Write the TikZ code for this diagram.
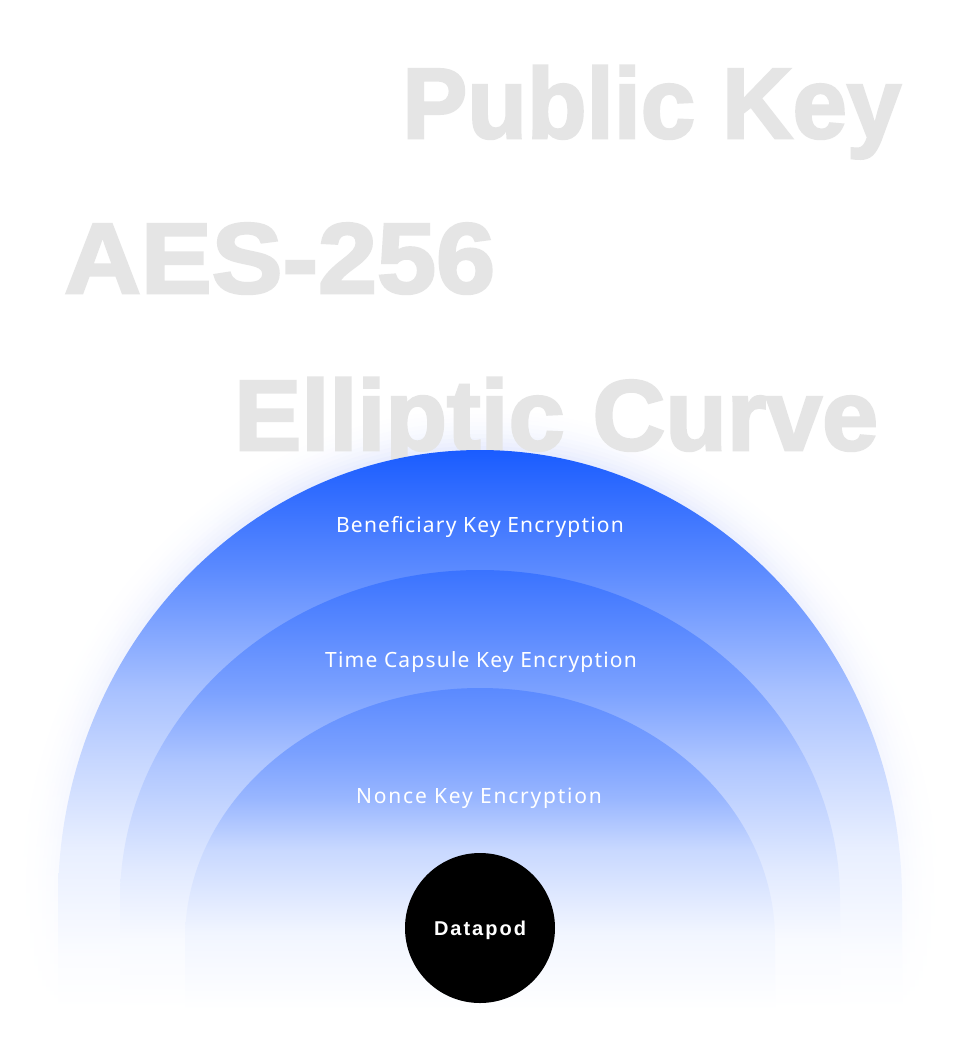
\documentclass[tikz,border=0pt]{standalone}
\usepackage{fontspec}
\setmainfont{Liberation Sans}
\newfontfamily\ghostfont[FakeBold=2.5]{Liberation Sans Bold}
\newfontfamily\labelfont[LetterSpace=5.7]{Noto Sans}
\newfontfamily\podfont[LetterSpace=10]{Liberation Sans Bold}
\definecolor{base}{HTML}{1A5CFF}
\definecolor{glow}{HTML}{3D62F5}
\definecolor{ghost}{HTML}{E5E5E5}
\pgfdeclareverticalshading{outershade}{100bp}{color(0bp)=(white); color(25bp)=(white); color(30bp)=(base!2!white); color(39.5bp)=(base!10!white); color(47.5bp)=(base!25!white); color(53.5bp)=(base!38!white); color(64.5bp)=(base!72!white); color(75bp)=(base); color(100bp)=(base)}
\pgfdeclareverticalshading{middleshade}{100bp}{color(0bp)=(white); color(25bp)=(white); color(33bp)=(base!3!white); color(41bp)=(base!13!white); color(53bp)=(base!35!white); color(61bp)=(base!57!white); color(75bp)=(base!86!white); color(100bp)=(base!86!white)}
\pgfdeclareverticalshading{innershade}{100bp}{color(0bp)=(white); color(25bp)=(white); color(37bp)=(base!6!white); color(50bp)=(base!24!white); color(58bp)=(base!45!white); color(65bp)=(base!58!white); color(75bp)=(base!72!white); color(100bp)=(base!72!white)}
\newcommand\archpath[4]{({#1-(#3)},#2) arc[start angle=180,end angle=360,x radius={#3},y radius={#4}] -- ({#1+(#3)},1010) -- ({#1-(#3)},1010) -- cycle}
\tikzset{
  ghosttext/.style={anchor=base west, inner sep=0pt, text=ghost, font=\ghostfont\fontsize{100}{100}\selectfont},
  layerlabel/.style={anchor=base, text=white, inner sep=0pt, font=\labelfont\fontsize{21}{21}\selectfont},
}
\begin{document}
\begin{tikzpicture}[x=1pt,y=-1pt]
\useasboundingbox (0,0) rectangle (960,1050);
\fill[white] (0,0) rectangle (960,1050);
% halo
\foreach \d/\k in {40/0.5,36/1,32/1.6,28/2.4,24/3.4,20/4.6,16/6,12/7.6,8/9.4,4/11.5}
  \shade[top color=glow!\k!white, bottom color=white] \archpath{480}{900}{422+\d}{450+\d};
% background words
\node[ghosttext] (pk) at (402,138) {\resizebox{499pt}{\height}{Public Key}};
\node[ghosttext] (aes) at (64,293) {\resizebox{431pt}{\height}{AES-256}};
\node[ghosttext] (ec) at (234,450) {\resizebox{644pt}{\height}{Elliptic Curve}};
% layers
\shade[shading=outershade] \archpath{480}{900}{422}{450};
\shade[shading=middleshade] \archpath{480}{900}{360}{330};
\shade[shading=innershade] \archpath{480}{940}{295}{252};
% labels
\node[layerlabel] (l1) at (480,532) {Beneficiary Key Encryption};
\node[layerlabel] (l2) at (481,667) {Time Capsule Key Encryption};
\node[layerlabel] (l3) at (479,803) {\addfontfeature{LetterSpace=8.5}Nonce Key Encryption};
\node[circle, fill=black, minimum size=150pt, inner sep=0pt, text depth=0pt, text=white, font=\podfont\fontsize{20}{20}\selectfont] (pod) at (480,928) {Datapod};
\end{tikzpicture}
\end{document}
